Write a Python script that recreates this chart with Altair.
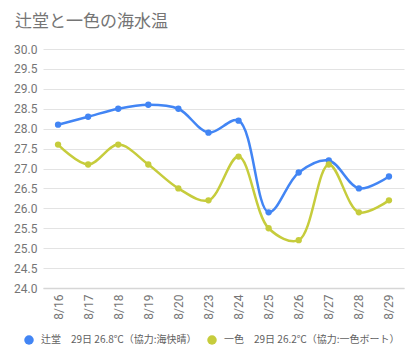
import altair as alt
import pandas as pd

dates = ["8/16", "8/17", "8/18", "8/19", "8/20", "8/23", "8/24", "8/25", "8/26", "8/27", "8/28", "8/29"]
tsujido = [28.1, 28.3, 28.5, 28.6, 28.5, 27.9, 28.2, 25.9, 26.9, 27.2, 26.5, 26.8]
isshiki = [27.6, 27.1, 27.6, 27.1, 26.5, 26.2, 27.3, 25.5, 25.2, 27.1, 25.9, 26.2]
series = ["辻堂", "一色"]
legend_labels = ["辻堂\u300029日 26.8℃（協力:海快晴）", "一色\u300029日 26.2℃（協力:一色ボート）"]
colors = ["#4285F4", "#C6CC3C"]

rows = []
for name, vals in zip(legend_labels, [tsujido, isshiki]):
    for d, v in zip(dates, vals):
        rows.append({"date": d, "temp": v, "series": name})
df = pd.DataFrame(rows)

FONT = "Roboto, 'Noto Sans CJK JP', sans-serif"
CJK = "'Noto Sans CJK JP', sans-serif"

x = alt.X("date:N", sort=dates, title=None,
          scale=alt.Scale(type="point", padding=0.5),
          axis=alt.Axis(labelAngle=-90, ticks=False, domain=True, domainColor="#d6d6d6",
                        domainWidth=1.5, labelColor="#757575", labelFontSize=12,
                        labelPadding=6, labelFont=FONT))
y = alt.Y("temp:Q", title=None,
          scale=alt.Scale(domain=[24, 30], nice=False, zero=False),
          axis=alt.Axis(values=[24 + 0.5 * i for i in range(13)], format=".1f", ticks=False,
                        domain=False, gridColor="#e3e3e3", labelColor="#757575",
                        labelFontSize=12, labelPadding=6, labelFont=FONT))
color = alt.Color("series:N", sort=legend_labels,
                  scale=alt.Scale(domain=legend_labels, range=colors),
                  legend=alt.Legend(title=None, orient="none", legendX=-19, legendY=286,
                                    direction="horizontal", columns=2, columnPadding=10,
                                    symbolType="circle", symbolSize=90, symbolStrokeWidth=0,
                                    labelFontSize=10, labelColor="#616161", labelFont=CJK,
                                    labelLimit=300, labelOffset=7))

lines = alt.Chart(df).mark_line(interpolate="catmull-rom", strokeWidth=2.5).encode(
    x=x, y=y, color=color)
points = alt.Chart(df).mark_point(filled=True, size=40, opacity=1).encode(
    x=x, y=y, color=alt.Color("series:N", sort=legend_labels,
                              scale=alt.Scale(domain=legend_labels, range=colors), legend=None))

chart = (lines + points).properties(
    width=361, height=239,
    title=alt.TitleParams("辻堂と一色の海水温", anchor="start", frame="group", dx=-28, offset=12,
                          fontSize=17, fontWeight="normal", color="#757575", font=CJK),
    autosize=alt.AutoSizeParams(type="none"),
    padding={"left": 35, "top": 41, "right": 8, "bottom": 70},
).configure_view(stroke=None)

chart.save("out.html", embed_options={"renderer": "svg", "actions": False})
